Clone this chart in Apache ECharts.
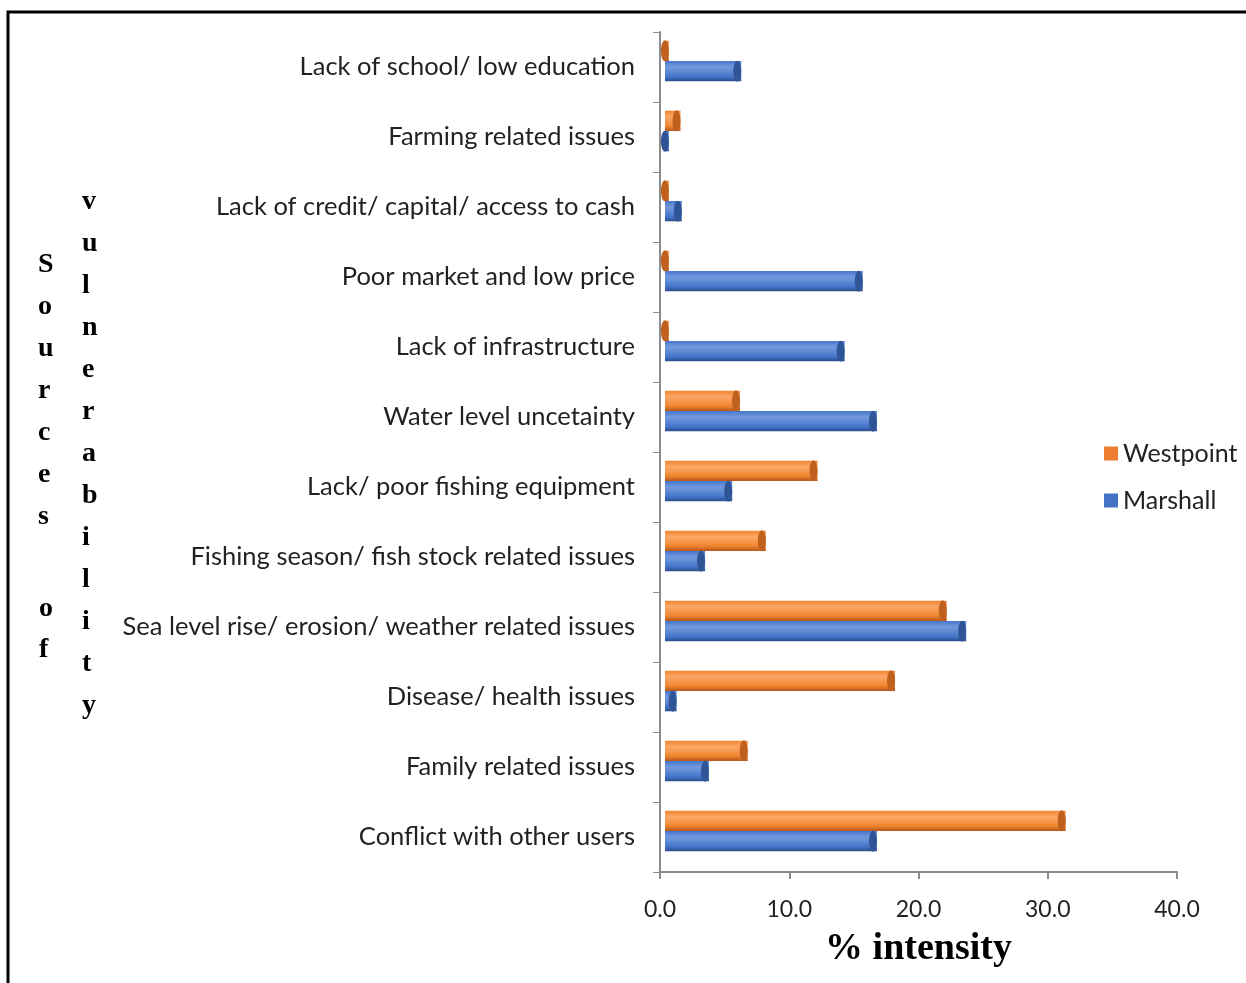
<!DOCTYPE html>
<html>
<head>
<meta charset="utf-8">
<style>
  html, body { margin: 0; padding: 0; background: #fff; }
  #chart { width: 1246px; height: 983px; }
</style>
<script src="https://cdn.jsdelivr.net/npm/echarts@6/dist/echarts.min.js"></script>
</head>
<body>
<div id="chart"></div>
<script>
// categories, top to bottom as in the picture
const categories = [
  "Lack of school/ low education",
  "Farming related issues",
  "Lack of credit/ capital/ access to cash",
  "Poor market and low price",
  "Lack of infrastructure",
  "Water level uncetainty",
  "Lack/ poor fishing equipment",
  "Fishing season/ fish stock related issues",
  "Sea level rise/ erosion/ weather related issues",
  "Disease/ health issues",
  "Family related issues",
  "Conflict with other users"
];
const westpoint = [0.3, 1.2, 0.3, 0.3, 0.3, 5.8, 11.8, 7.8, 21.8, 17.8, 6.4, 31.0];
const marshall = [5.9, 0.3, 1.3, 15.3, 13.9, 16.4, 5.2, 3.1, 23.3, 0.9, 3.4, 16.4];
const xTicks = [0, 10, 20, 30, 40];

const orange = "#F0862F";
const blue = "#4777CC";

// cylinder-ish shading across the bar thickness
const shade = (dark, mid, light) => new echarts.graphic.LinearGradient(0, 0, 0, 1, [
  { offset: 0, color: mid },
  { offset: 0.3, color: light },
  { offset: 0.75, color: mid },
  { offset: 1, color: dark }
]);

const chart = echarts.init(document.getElementById("chart"));

const labelFont = "Lato, 'Noto Sans', sans-serif";
const serif = "'Liberation Serif', 'DejaVu Serif', serif";
const barOpts = { xAxisIndex: 1, yAxisIndex: 1, barGap: "0%", barCategoryGap: "42%" };
const axisGray = "#8c8c8c";

const option = {
  animation: false,
  // grid 0 carries the visible axes, grid 1 the bars (shifted like the 3D floor)
  grid: [
    { left: 660, right: 69, top: 32, bottom: 111, outerBoundsMode: "none", containLabel: false },
    { left: 665, right: 64, top: 26, bottom: 117, outerBoundsMode: "none", containLabel: false }
  ],
  legend: {
    orient: "vertical",
    left: 1099,
    top: 436,
    itemWidth: 14,
    itemHeight: 14,
    itemGap: 22,
    icon: "rect",
    data: [
      { name: "Westpoint", itemStyle: { color: "#ED7D31" } },
      { name: "Marshall", itemStyle: { color: "#4472C4" } }
    ],
    textStyle: { fontFamily: labelFont, fontSize: 25, color: "#222" }
  },
  xAxis: [
    {
      gridIndex: 0,
      type: "value",
      min: xTicks[0],
      max: xTicks[xTicks.length - 1],
      interval: 10,
      name: "% intensity",
      nameLocation: "middle",
      nameGap: 58,
      nameTextStyle: { fontFamily: serif, fontWeight: "bold", fontSize: 38, color: "#000" },
      axisLine: { show: true, lineStyle: { color: axisGray, width: 2 } },
      axisTick: { show: true, length: 7, lineStyle: { color: axisGray, width: 2 } },
      axisLabel: {
        margin: 26,
        fontFamily: labelFont,
        fontSize: 23,
        color: "#222",
        formatter: (v) => v.toFixed(1)
      },
      splitLine: { show: false }
    },
    {
      gridIndex: 1,
      type: "value",
      min: xTicks[0],
      max: xTicks[xTicks.length - 1],
      show: false
    }
  ],
  yAxis: [
    {
      gridIndex: 0,
      type: "category",
      inverse: true,
      data: categories,
      axisLine: { show: true, lineStyle: { color: axisGray, width: 2 } },
      axisTick: { show: true, length: 7, lineStyle: { color: axisGray, width: 1 } },
      axisLabel: { margin: 25, fontFamily: labelFont, fontSize: 25.5, color: "#222" }
    },
    {
      gridIndex: 1,
      type: "category",
      inverse: true,
      data: categories,
      show: false
    }
  ],
  series: [
    {
      name: "Westpoint",
      type: "bar",
      data: westpoint,
      ...barOpts,
      itemStyle: { color: shade("#B5561A", orange, "#FBA766") },
      z: 2
    },
    {
      name: "Marshall",
      type: "bar",
      data: marshall,
      ...barOpts,
      itemStyle: { color: shade("#2B4E8C", blue, "#7399DC") },
      z: 2
    },
    // end caps of the cylinders
    {
      name: "Westpoint",
      type: "pictorialBar",
      data: westpoint,
      ...barOpts,
      symbol: "circle",
      symbolSize: [8, 21],
      symbolPosition: "end",
      itemStyle: { color: "#C0601F" },
      z: 3
    },
    {
      name: "Marshall",
      type: "pictorialBar",
      data: marshall,
      ...barOpts,
      symbol: "circle",
      symbolSize: [8, 21],
      symbolPosition: "end",
      itemStyle: { color: "#2F5597" },
      z: 3
    }
  ],
  graphic: [
    {
      type: "rect",
      shape: { x: 8, y: 12, width: 1300, height: 1000 },
      style: { fill: "none", stroke: "#000", lineWidth: 3 },
      silent: true
    },
    {
      type: "text",
      left: 38,
      top: 244,
      style: {
        text: "S\no\nu\nr\nc\ne\ns",
        font: "bold 28px " + serif,
        lineHeight: 42,
        align: "center",
        fill: "#000"
      }
    },
    {
      type: "text",
      left: 39,
      top: 588,
      style: {
        text: "o\nf",
        font: "bold 28px " + serif,
        lineHeight: 41,
        align: "center",
        fill: "#000"
      }
    },
    {
      type: "text",
      left: 82,
      top: 181,
      style: {
        text: "v\nu\nl\nn\ne\nr\na\nb\ni\nl\ni\nt\ny",
        font: "bold 28px " + serif,
        lineHeight: 42,
        align: "center",
        fill: "#000"
      }
    }
  ]
};

chart.setOption(option);
</script>
</body>
</html>
